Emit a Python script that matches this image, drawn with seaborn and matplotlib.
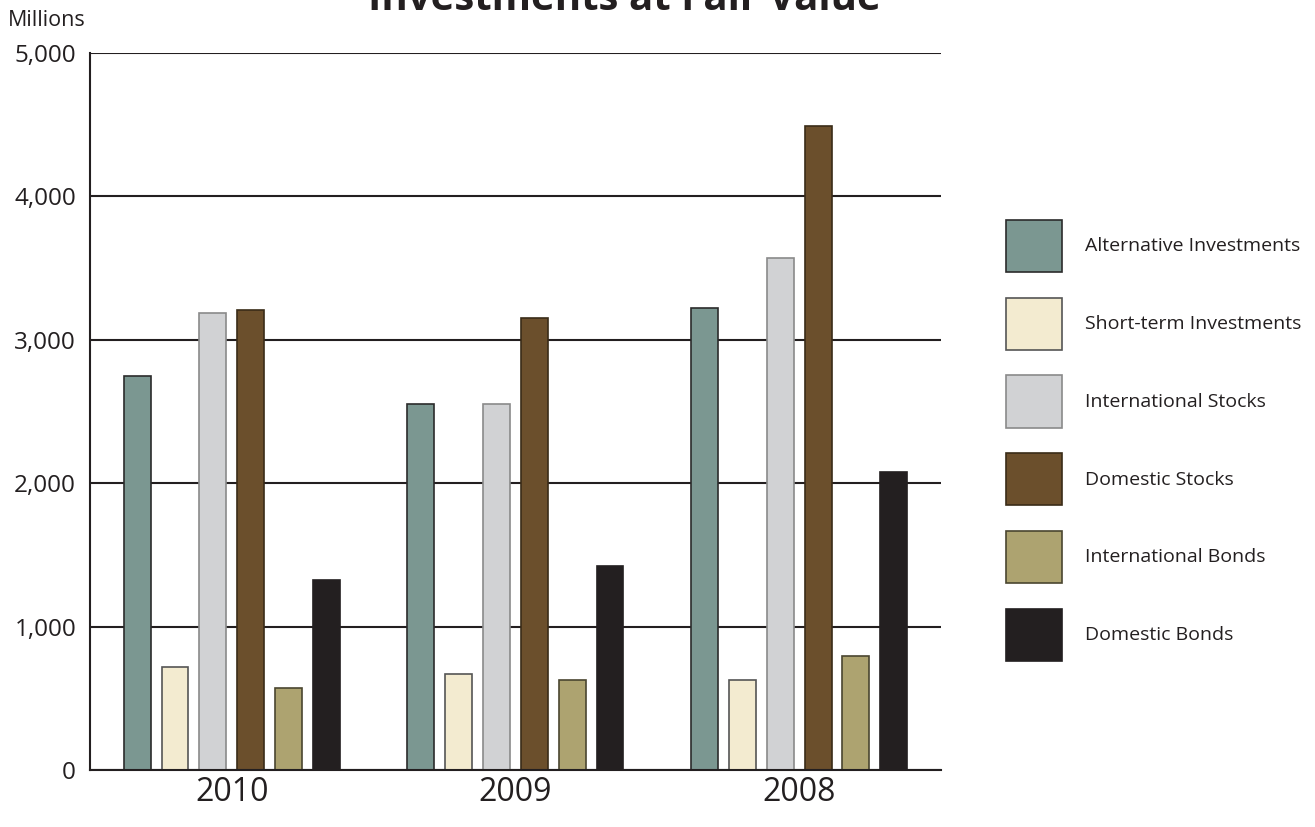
import pandas as pd
import numpy as np
import matplotlib
matplotlib.use("Agg")
import matplotlib.pyplot as plt
import seaborn as sns

# ── data (millions) ──
years = ["2010", "2009", "2008"]
categories = ["Alternative Investments", "Short-term Investments",
              "International Stocks", "Domestic Stocks",
              "International Bonds", "Domestic Bonds"]
alternative = [2750, 2550, 3225]
short_term = [715, 670, 625]
intl_stocks = [3190, 2555, 3570]
dom_stocks = [3205, 3155, 4490]
intl_bonds = [575, 630, 795]
dom_bonds = [1325, 1425, 2075]
yticks = [0, 1000, 2000, 3000, 4000, 5000]

colors = ["#7b9791", "#f3ebd0", "#d1d2d4", "#6b4f2c", "#ada370", "#231f20"]
edges = ["#2b2b2b", "#555555", "#8a8a8a", "#3a2c18", "#4a4630", "#231f20"]

series = [alternative, short_term, intl_stocks, dom_stocks, intl_bonds, dom_bonds]
df = pd.DataFrame({
    "year": np.repeat([years], len(categories), axis=0).ravel(),
    "category": np.repeat(categories, len(years)),
    "value": np.concatenate(series),
})

sns.set_theme(style="white")
plt.rcParams["font.family"] = ["Open Sans", "DejaVu Sans"]

fig = plt.figure(figsize=(13.15, 8.27), dpi=100)
ax = fig.add_axes([0.0684, 0.0689, 0.6472, 0.867])

sns.barplot(data=df, x="year", y="value", hue="category", order=years,
            hue_order=categories, palette=colors, width=0.8, gap=0.29,
            saturation=1, linewidth=1.2, ax=ax, legend=True)

# per-series edge colours
for cont, ec in zip(ax.containers, edges):
    for bar in cont:
        bar.set_edgecolor(ec)

ax.set_xlim(-0.5, 2.5)
ax.set_ylim(0, 5000)
ax.set_yticks(yticks)
ax.set_yticklabels([f"{v:,}" for v in yticks])
ax.set_xlabel("")
ax.set_ylabel("")
ax.grid(axis="y", color="#231f20", linewidth=1.5)
ax.set_axisbelow(True)
ax.tick_params(axis="y", length=0, pad=10, labelsize=17.5, colors="#231f20")
ax.tick_params(axis="x", length=0, pad=4, labelsize=23, colors="#231f20")
for s in ["top", "right"]:
    ax.spines[s].set_visible(False)
for s in ["left", "bottom"]:
    ax.spines[s].set_color("#231f20")
    ax.spines[s].set_linewidth(1.5)

handles, labels = ax.get_legend_handles_labels()
for h, ec in zip(handles, edges):
    h.set_edgecolor(ec)
ax.legend(handles, labels, loc="upper left", bbox_to_anchor=(0.758, 0.746),
          bbox_transform=fig.transFigure, frameon=False, fontsize=14,
          handlelength=2.85, handleheight=3.75, labelspacing=1.32,
          handletextpad=1.2, borderpad=0, labelcolor="#231f20")

fig.text(0.006, 0.975, "Millions", fontsize=15.5, color="#231f20", va="center")
fig.text(0.475, 0.988, "Investments at Fair Value", fontsize=29,
         fontweight="bold", color="#231f20", ha="center", va="baseline")

fig.savefig("out.png", dpi=100)
